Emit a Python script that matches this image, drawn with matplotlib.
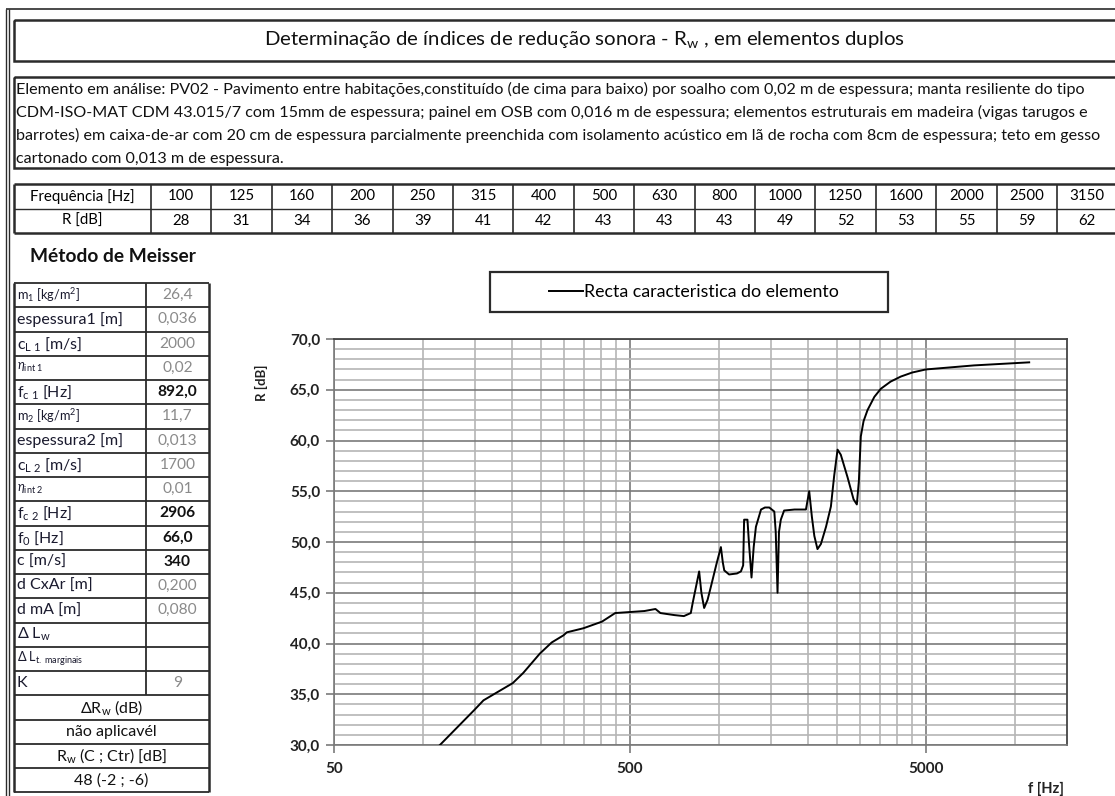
import matplotlib.pyplot as plt
from matplotlib.patches import Rectangle
from matplotlib.ticker import FixedLocator, NullFormatter

plt.rcParams['font.family'] = ['Lato', 'DejaVu Sans']
plt.rcParams['mathtext.fontset'] = 'custom'
plt.rcParams['mathtext.rm'] = 'Lato'
plt.rcParams['mathtext.it'] = 'Lato:italic'
plt.rcParams['mathtext.bf'] = 'Lato:bold'

# ---- data read from the sheet ----
title = r"Determinação de índices de redução sonora - R$_{\mathrm{w}}$ , em elementos duplos"
desc_lines = [
    "Elemento em análise: PV02 - Pavimento entre habitações,constituído (de cima para baixo) por soalho com 0,02 m de espessura; manta resiliente do tipo",
    "CDM-ISO-MAT CDM 43.015/7 com 15mm de espessura; painel em OSB com 0,016 m de espessura; elementos estruturais em madeira (vigas tarugos e",
    "barrotes) em caixa-de-ar com 20 cm de espessura parcialmente preenchida com isolamento acústico em lã de rocha com 8cm de espessura; teto em gesso",
    "cartonado com 0,013 m de espessura.",
]
bands = ["100", "125", "160", "200", "250", "315", "400", "500", "630", "800",
         "1000", "1250", "1600", "2000", "2500", "3150"]
r_band = [28, 31, 34, 36, 39, 41, 42, 43, 43, 43, 49, 52, 53, 55, 59, 62]

par_labels = [r"m$_{1}$ [kg/m$^{2}$]", "espessura1 [m]", r"c$_{\mathrm{L\ 1}}$ [m/s]",
              r"$\eta_{\mathrm{int\ 1}}$", r"f$_{\mathrm{c\ 1}}$ [Hz]", r"m$_{2}$ [kg/m$^{2}$]",
              "espessura2 [m]", r"c$_{\mathrm{L\ 2}}$ [m/s]", r"$\eta_{\mathrm{int\ 2}}$",
              r"f$_{\mathrm{c\ 2}}$ [Hz]", r"f$_{0}$ [Hz]", "c [m/s]", "d CxAr [m]", "d mA [m]",
              r"Δ L$_{\mathrm{w}}$", r"Δ L$_{\mathrm{t.\ marginais}}$", "K"]
par_values = ["26,4", "0,036", "2000", "0,02", "892,0", "11,7", "0,013", "1700", "0,01",
              "2906", "66,0", "340", "0,200", "0,080", "", "", "9"]
par_calc = [False, False, False, False, True, False, False, False, False,
            True, True, True, False, False, False, False, False]
result_rows = [r"ΔR$_{\mathrm{w}}$ (dB)", "não aplicavél",
               r"R$_{\mathrm{w}}$ (C ; Ctr) [dB]", "48 (-2 ; -6)"]

freq = [114, 149, 160, 201, 218, 248, 272, 298, 306, 348, 402, 446, 500, 560, 610,
        634, 706, 761, 803, 815, 857, 872, 891, 915, 939, 980, 1015, 1030,
        1042, 1082, 1150, 1186, 1207, 1216, 1248, 1262, 1288, 1310, 1333, 1387, 1430,
        1479, 1538, 1555, 1577, 1595, 1618, 1660, 1800, 1967, 2018, 2060, 2100,
        2152, 2210, 2300, 2389, 2450, 2516, 2580, 2718, 2850, 2923, 2970, 3015,
        3080, 3177, 3350, 3524, 3800, 4116, 4500, 5000, 7282, 11176]
r_curve = [30.0, 33.45, 34.4, 36.1, 37.1, 39.0, 40.1, 40.8, 41.1, 41.5, 42.15, 43.0,
           43.1, 43.2, 43.4, 43.0, 42.8, 42.7, 43.0, 44.0, 47.1, 45.0,
           43.5, 44.3, 45.6, 47.8, 49.5, 48.0, 47.2, 46.8, 46.9, 47.1, 47.7, 52.2,
           52.2, 50.0, 46.5, 49.5, 51.5, 53.2, 53.4, 53.4, 53.0, 51.0, 45.0, 51.0,
           52.2, 53.1, 53.2, 53.2, 55.0, 52.5, 50.6, 49.3, 49.8, 51.5, 53.5, 56.5,
           59.1, 58.6, 56.4, 54.2, 53.7, 56.0, 60.4, 61.9, 63.0, 64.3, 65.1, 65.8,
           66.3, 66.7, 67.0, 67.4, 67.7]

W, H = 1115, 796
fig = plt.figure(figsize=(W / 100, H / 100), dpi=100)
bg = fig.add_axes([0, 0, 1, 1])
bg.set_xlim(0, W)
bg.set_ylim(H, 0)
bg.axis('off')

dark = '#2b2b2b'
ink = '#111111'


def hline(y, x0, x1, lw=1.0):
    bg.plot([x0, x1], [y, y], color=dark, lw=lw, solid_capstyle='butt')


def vline(x, y0, y1, lw=1.0):
    bg.plot([x, x], [y0, y1], color=dark, lw=lw, solid_capstyle='butt')


# outer page frame
vline(5.5, 9, H, 1.0)
vline(8.5, 9, H, 1.0)
hline(9, 5.5, W, 1.2)

# title box
bg.add_patch(Rectangle((14, 20), 1200, 41, fill=False, ec=dark, lw=1.8))
bg.text(584, 40, title, ha='center', va='center', fontsize=14.7, color=ink)

# description box
bg.add_patch(Rectangle((14, 77), 1200, 91, fill=False, ec=dark, lw=1.8))
for i, line in enumerate(desc_lines):
    bg.text(16, 89 + i * 23.3, line, ha='left', va='center', fontsize=11.6, color=ink)

# frequency table
tx0, tx1, cw = 14, 151, 60.4
ty0, th = 184, 24.5
for r in range(3):
    hline(ty0 + r * th, tx0, W, 1.8 if r != 1 else 1.0)
vline(tx0, ty0, ty0 + 2 * th, 1.8)
for c in range(len(bands) + 1):
    vline(tx1 + c * cw, ty0, ty0 + 2 * th, 1.2)
tf = dict(ha='center', va='center', fontsize=10.8, color='black')
bg.text((tx0 + tx1) / 2, ty0 + th / 2, "Frequência [Hz]", **tf)
bg.text((tx0 + tx1) / 2, ty0 + 1.5 * th, "R [dB]", **tf)
for c, (b, v) in enumerate(zip(bands, r_band)):
    xc = tx1 + (c + 0.5) * cw
    bg.text(xc, ty0 + th / 2, b, **tf)
    bg.text(xc, ty0 + 1.5 * th, str(v), **tf)

bg.text(30, 257, "Método de Meisser", ha='left', va='center', fontsize=13.8,
        fontweight='bold', color=ink)

# parameter table
px0, px1, px2 = 14, 146, 209
py0, ph = 283, 24.25
nrows = len(par_labels) + len(result_rows)
for r in range(nrows + 1):
    hline(py0 + r * ph, px0, px2, 1.3)
vline(px0, py0, py0 + nrows * ph, 1.8)
vline(px2, py0, py0 + nrows * ph, 1.8)
vline(px1, py0, py0 + len(par_labels) * ph, 1.3)
for r, (lab, val, calc) in enumerate(zip(par_labels, par_values, par_calc)):
    yc = py0 + (r + 0.5) * ph
    small = lab.startswith(r"$\eta") or lab.startswith("m$") or "marginais" in lab
    bg.text(px0 + 3, yc, lab, ha='left', va='center', fontsize=9.2 if small else 11.5,
            color='#1a1a2e')
    bg.text((px1 + px2) / 2, yc, val, ha='center', va='center', fontsize=11.2,
            color=ink if calc else '#8a8a8a', fontweight='bold' if calc else 'normal')
for k, lab in enumerate(result_rows):
    yc = py0 + (len(par_labels) + k + 0.5) * ph
    bg.text((px0 + px2) / 2, yc, lab, ha='center', va='center', fontsize=11.5, color=ink)

# ---- chart ----
ax = fig.add_axes([334 / W, 1 - 745 / H, (1067 - 334) / W, (745 - 339) / H])
ax.plot(freq, r_curve, color='black', lw=1.4, label="Recta caracteristica do elemento",
        zorder=3, solid_joinstyle='round')
ax.set_xscale('log')
ax.set_xlim(50, 15000)
ax.set_ylim(30, 70)
ax.xaxis.set_major_locator(FixedLocator([50, 500, 5000]))
ax.xaxis.set_minor_locator(FixedLocator(
    [100, 150, 200, 250, 300, 350, 400, 450,
     1000, 1500, 2000, 2500, 3000, 3500, 4000, 4500, 10000]))
ax.xaxis.set_minor_formatter(NullFormatter())
ax.set_xticklabels(["50", "500", "5000"])
yt = list(range(30, 71, 5))
ax.set_yticks(yt)
ax.set_yticklabels([f"{v:.1f}".replace('.', ',') for v in yt])
ax.yaxis.set_minor_locator(FixedLocator([v for v in range(30, 71) if v % 5]))
ax.grid(which='major', color='#7a7a7a', lw=1.2)
ax.grid(which='minor', color='#b5b5b5', lw=1.2)
ax.tick_params(which='major', length=6, width=1.2, color='#7a7a7a', labelsize=11, pad=4)
ax.tick_params(which='minor', length=0)
for lab in ax.get_xticklabels() + ax.get_yticklabels():
    lab.set_fontweight('bold')
    lab.set_color('#222')
ax.tick_params(axis='x', pad=6)
for side in ['left', 'bottom']:
    ax.spines[side].set_color('#7a7a7a')
    ax.spines[side].set_linewidth(1.2)
for side in ['top', 'right']:
    ax.spines[side].set_color('#444')
    ax.spines[side].set_linewidth(1.3)
ax.set_ylabel("R [dB]", fontsize=9.5, fontweight='bold', color='#222')
ax.yaxis.set_label_coords(-0.09, 0.892)
ax.set_xlabel("f [Hz]", fontsize=10.5, fontweight='bold', color='#222')
ax.xaxis.set_label_coords(0.971, -0.091)

# legend box
bg.add_patch(Rectangle((490, 272), 398, 40, fill=False, ec=dark, lw=1.6))
ax.legend(loc='center', bbox_to_anchor=(694 / W, 1 - 292 / H), bbox_transform=fig.transFigure,
          frameon=False, fontsize=12.8, handlelength=1.9, handletextpad=0.1)

fig.savefig('out.png', dpi=100)
